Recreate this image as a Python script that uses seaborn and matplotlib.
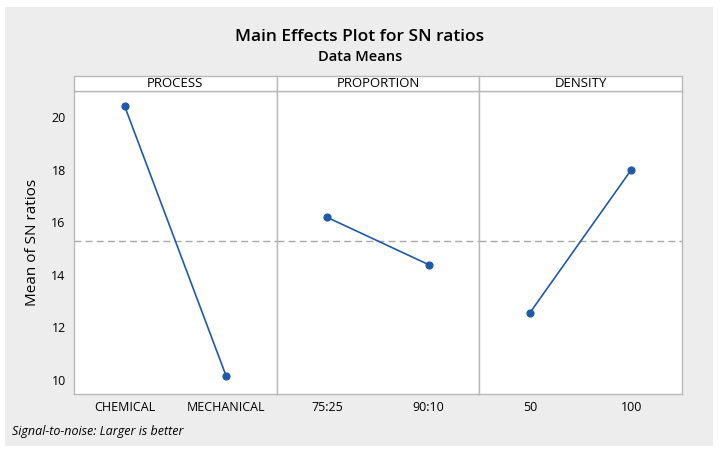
import seaborn as sns
import matplotlib.pyplot as plt
import pandas as pd
from matplotlib.patches import Rectangle

factors = ['PROCESS', 'PROPORTION', 'DENSITY']
levels = [['CHEMICAL', 'MECHANICAL'], ['75:25', '90:10'], ['50', '100']]
sn_means = [[20.42, 10.15], [16.18, 14.38], [12.55, 18.00]]

rows = []
for f, lv, vals in zip(factors, levels, sn_means):
    for l, v in zip(lv, vals):
        rows.append({'factor': f, 'level': l, 'value': v})
df = pd.DataFrame(rows)
grand_mean = df['value'].mean()

sns.set_style("white")
plt.rcParams['font.family'] = ['Open Sans', 'DejaVu Sans']
plt.rcParams['text.color'] = 'black'
plt.rcParams['xtick.color'] = 'black'
plt.rcParams['ytick.color'] = 'black'
plt.rcParams['axes.labelcolor'] = 'black'

line_col = '#1f5aa6'
frame_col = '#b8b8b8'

fig, axes = plt.subplots(1, 3, sharey=True, figsize=(7.2, 4.53), dpi=100)
fig.patch.set_facecolor('white')
fig.subplots_adjust(left=74 / 720, right=682 / 720, bottom=1 - 394 / 453, top=1 - 91 / 453, wspace=0)

# grey background panel like Minitab
fig.add_artist(Rectangle((5 / 720, 1 - 446 / 453), 708 / 720, 439 / 453,
                         transform=fig.transFigure, facecolor='#ededed', edgecolor='none', zorder=-1))

for ax, f, lv in zip(axes, factors, levels):
    sub = df[df['factor'] == f]
    ax.axhline(grand_mean, color='#a8a8a8', linestyle=(0, (5, 3)), linewidth=1, zorder=1)
    sns.pointplot(data=sub, x='level', y='value', order=lv, color=line_col, errorbar=None,
                  markers='o', markersize=5, linewidth=1.2, ax=ax)
    ax.set_facecolor('white')
    ax.set_xlabel('')
    ax.set_ylabel('')
    ax.set_xlim(-0.5, 1.5)
    for s in ax.spines.values():
        s.set_color(frame_col)
        s.set_linewidth(1)
    ax.tick_params(axis='x', length=3, color=frame_col, labelcolor='black', labelsize=9, pad=2)
    ax.tick_params(axis='y', length=3, color=frame_col, labelcolor='black', labelsize=9, pad=3)
    # strip header
    h = 15.5 / 303
    ax.add_patch(Rectangle((0, 1), 1, h, transform=ax.transAxes, facecolor='white',
                           edgecolor=frame_col, linewidth=1, clip_on=False, zorder=3))
    ax.text(0.5, 1 + h / 2, f, transform=ax.transAxes, ha='center', va='center', fontsize=9.5)

for ax in axes[1:]:
    ax.tick_params(axis='y', left=False)

axes[0].set_ylim(9.45, 21.0)
axes[0].set_yticks([10, 12, 14, 16, 18, 20])
axes[0].set_ylabel('Mean of SN ratios', fontsize=11, labelpad=8)

fig.text(0.5, 1 - 37 / 453, 'Main Effects Plot for SN ratios', ha='center', va='center',
         fontsize=12.5, fontweight='semibold')
fig.text(0.5, 1 - 57 / 453, 'Data Means', ha='center', va='center', fontsize=10.5, fontweight='semibold')
fig.text(12 / 720, 1 - 431 / 453, 'Signal-to-noise: Larger is better', ha='left', va='center',
         fontsize=9, style='italic')

fig.savefig('out.png', dpi=100, facecolor=fig.get_facecolor())
